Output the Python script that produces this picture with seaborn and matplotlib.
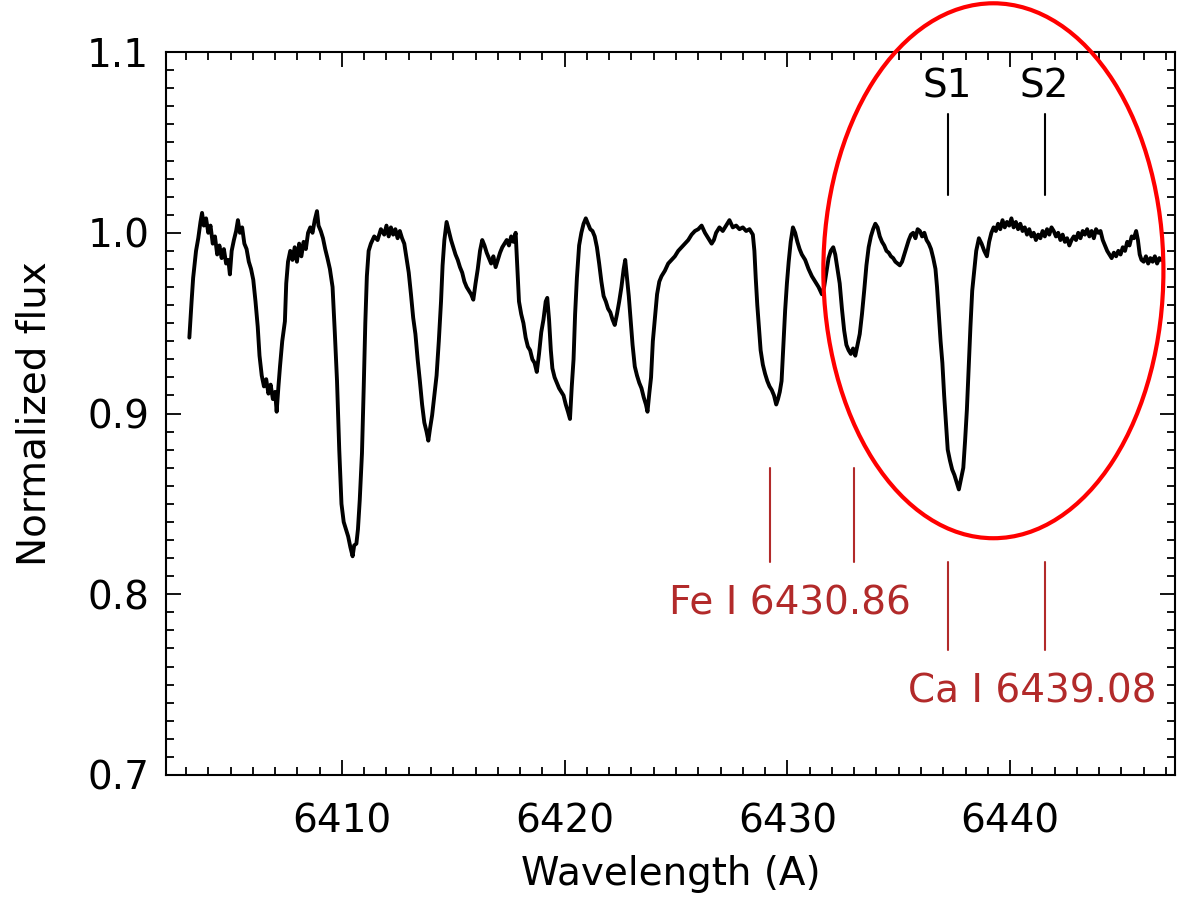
import numpy as np
import pandas as pd
import matplotlib
matplotlib.use("Agg")
import matplotlib.pyplot as plt
import seaborn as sns
from matplotlib.patches import Ellipse
from matplotlib.ticker import MultipleLocator

# spectrum (wavelength in A, normalized flux)
wavelength = [
    6403.15, 6403.25, 6403.32, 6403.45, 6403.55, 6403.65, 6403.72, 6403.80, 6403.90, 6404.00,
    6404.10, 6404.20, 6404.30, 6404.40, 6404.50, 6404.60, 6404.70, 6404.80, 6404.90, 6404.97,
    6405.05, 6405.15, 6405.25, 6405.33, 6405.42, 6405.52, 6405.62, 6405.72, 6405.82, 6405.92,
    6406.02, 6406.12, 6406.22, 6406.30, 6406.40, 6406.50, 6406.60, 6406.70, 6406.80, 6406.90,
    6407.00, 6407.07, 6407.15, 6407.22, 6407.32, 6407.44, 6407.50, 6407.58, 6407.68, 6407.78,
    6407.88, 6407.98, 6408.08, 6408.18, 6408.28, 6408.38, 6408.48, 6408.58, 6408.68, 6408.78,
    6408.88, 6408.95, 6409.05, 6409.15, 6409.25, 6409.35, 6409.46, 6409.58, 6409.68, 6409.78,
    6409.88, 6409.98, 6410.08, 6410.18, 6410.28, 6410.38, 6410.48, 6410.55, 6410.65, 6410.72,
    6410.80, 6410.90, 6410.98, 6411.05, 6411.12, 6411.20, 6411.30, 6411.45, 6411.60, 6411.75,
    6411.90, 6412.00, 6412.10, 6412.20, 6412.30, 6412.40, 6412.50, 6412.60, 6412.70, 6412.80,
    6412.90, 6413.00, 6413.10, 6413.20, 6413.30, 6413.40, 6413.50, 6413.60, 6413.70, 6413.80,
    6413.88, 6413.96, 6414.05, 6414.15, 6414.25, 6414.35, 6414.45, 6414.52, 6414.60, 6414.70,
    6414.80, 6414.90, 6415.00, 6415.10, 6415.20, 6415.30, 6415.40, 6415.50, 6415.60, 6415.70,
    6415.80, 6415.90, 6416.00, 6416.10, 6416.20, 6416.30, 6416.40, 6416.50, 6416.60, 6416.70,
    6416.80, 6416.90, 6417.00, 6417.10, 6417.20, 6417.30, 6417.40, 6417.50, 6417.60, 6417.70,
    6417.80, 6417.88, 6417.95, 6418.05, 6418.15, 6418.25, 6418.35, 6418.45, 6418.55, 6418.65,
    6418.75, 6418.85, 6418.95, 6419.05, 6419.15, 6419.22, 6419.30, 6419.38, 6419.45, 6419.55,
    6419.65, 6419.75, 6419.85, 6419.95, 6420.05, 6420.15, 6420.24, 6420.32, 6420.40, 6420.47,
    6420.55, 6420.65, 6420.75, 6420.85, 6420.95, 6421.05, 6421.15, 6421.25, 6421.35, 6421.45,
    6421.55, 6421.65, 6421.75, 6421.85, 6421.95, 6422.05, 6422.15, 6422.25, 6422.35, 6422.45,
    6422.55, 6422.65, 6422.72, 6422.80, 6422.88, 6422.96, 6423.05, 6423.15, 6423.25, 6423.35,
    6423.45, 6423.55, 6423.65, 6423.72, 6423.80, 6423.88, 6423.96, 6424.05, 6424.15, 6424.25,
    6424.35, 6424.50, 6424.65, 6424.80, 6424.95, 6425.10, 6425.25, 6425.40, 6425.55, 6425.70,
    6425.85, 6426.00, 6426.15, 6426.30, 6426.45, 6426.60, 6426.70, 6426.80, 6426.95, 6427.10,
    6427.25, 6427.40, 6427.55, 6427.70, 6427.85, 6428.00, 6428.15, 6428.30, 6428.45, 6428.52,
    6428.58, 6428.65, 6428.72, 6428.80, 6428.90, 6429.00, 6429.10, 6429.20, 6429.30, 6429.40,
    6429.50, 6429.58, 6429.66, 6429.74, 6429.82, 6429.90, 6429.98, 6430.06, 6430.15, 6430.25,
    6430.35, 6430.45, 6430.55, 6430.65, 6430.80, 6430.95, 6431.10, 6431.25, 6431.40, 6431.55,
    6431.65, 6431.75, 6431.85, 6431.95, 6432.06, 6432.15, 6432.25, 6432.35, 6432.45, 6432.55,
    6432.65, 6432.75, 6432.85, 6432.95, 6433.05, 6433.15, 6433.25, 6433.35, 6433.45, 6433.55,
    6433.65, 6433.75, 6433.85, 6433.95, 6434.05, 6434.15, 6434.25, 6434.35, 6434.45, 6434.55,
    6434.65, 6434.75, 6434.85, 6434.95, 6435.05, 6435.15, 6435.25, 6435.35, 6435.45, 6435.55,
    6435.65, 6435.75, 6435.85, 6435.95, 6436.05, 6436.15, 6436.25, 6436.35, 6436.45, 6436.55,
    6436.65, 6436.72, 6436.80, 6436.88, 6436.96, 6437.04, 6437.12, 6437.20, 6437.30, 6437.40,
    6437.50, 6437.60, 6437.70, 6437.80, 6437.90, 6437.98, 6438.06, 6438.14, 6438.22, 6438.30,
    6438.38, 6438.48, 6438.60, 6438.72, 6438.84, 6438.96, 6439.06, 6439.16, 6439.26, 6439.36,
    6439.46, 6439.56, 6439.66, 6439.76, 6439.86, 6439.96, 6440.06, 6440.16, 6440.26, 6440.36,
    6440.46, 6440.56, 6440.66, 6440.76, 6440.86, 6440.96, 6441.06, 6441.16, 6441.26, 6441.36,
    6441.46, 6441.56, 6441.66, 6441.76, 6441.86, 6441.96, 6442.06, 6442.16, 6442.26, 6442.36,
    6442.46, 6442.56, 6442.66, 6442.76, 6442.86, 6442.96, 6443.06, 6443.16, 6443.26, 6443.36,
    6443.46, 6443.56, 6443.66, 6443.76, 6443.86, 6443.96, 6444.06, 6444.16, 6444.26, 6444.36,
    6444.46, 6444.56, 6444.66, 6444.76, 6444.86, 6444.96, 6445.06, 6445.16, 6445.26, 6445.36,
    6445.46, 6445.56, 6445.66, 6445.74, 6445.82, 6445.90, 6446.00, 6446.10, 6446.20, 6446.30,
    6446.40, 6446.50, 6446.60, 6446.70, 6446.78,
]
flux = [
    0.942, 0.962, 0.975, 0.990, 0.997, 1.006, 1.011, 1.004, 1.008, 1.000,
    1.004, 0.994, 0.998, 0.988, 0.993, 0.986, 0.991, 0.983, 0.985, 0.977,
    0.990, 0.996, 1.001, 1.007, 1.000, 1.003, 0.994, 0.991, 0.984, 0.980,
    0.974, 0.962, 0.948, 0.932, 0.921, 0.915, 0.919, 0.911, 0.916, 0.908,
    0.912, 0.901, 0.915, 0.926, 0.940, 0.951, 0.972, 0.984, 0.990, 0.985,
    0.992, 0.984, 0.994, 0.987, 0.995, 0.991, 1.000, 1.003, 1.000, 1.007,
    1.012, 1.004, 1.001, 0.997, 0.991, 0.986, 0.980, 0.970, 0.945, 0.918,
    0.880, 0.850, 0.840, 0.836, 0.832, 0.826, 0.821, 0.827, 0.828, 0.836,
    0.852, 0.878, 0.915, 0.950, 0.976, 0.990, 0.994, 0.998, 0.996, 1.002,
    0.999, 1.004, 0.998, 1.003, 0.999, 1.002, 0.997, 1.001, 0.997, 0.994,
    0.986, 0.978, 0.966, 0.953, 0.944, 0.930, 0.918, 0.905, 0.895, 0.890,
    0.885, 0.892, 0.899, 0.910, 0.921, 0.940, 0.962, 0.982, 0.996, 1.006,
    1.001, 0.996, 0.992, 0.988, 0.985, 0.981, 0.978, 0.973, 0.970, 0.968,
    0.966, 0.963, 0.972, 0.980, 0.990, 0.996, 0.993, 0.989, 0.986, 0.983,
    0.987, 0.981, 0.985, 0.989, 0.992, 0.994, 0.996, 0.993, 0.998, 0.995,
    1.000, 0.980, 0.962, 0.955, 0.950, 0.942, 0.937, 0.935, 0.930, 0.928,
    0.923, 0.933, 0.945, 0.952, 0.962, 0.964, 0.952, 0.935, 0.925, 0.920,
    0.917, 0.914, 0.912, 0.910, 0.905, 0.901, 0.897, 0.915, 0.930, 0.955,
    0.975, 0.993, 1.000, 1.005, 1.008, 1.005, 1.002, 1.001, 0.998, 0.992,
    0.983, 0.973, 0.965, 0.962, 0.958, 0.956, 0.952, 0.949, 0.955, 0.962,
    0.970, 0.980, 0.985, 0.975, 0.965, 0.952, 0.938, 0.926, 0.921, 0.917,
    0.914, 0.909, 0.905, 0.901, 0.911, 0.920, 0.940, 0.952, 0.966, 0.973,
    0.976, 0.979, 0.983, 0.985, 0.987, 0.990, 0.992, 0.994, 0.996, 0.999,
    1.001, 1.002, 1.004, 1.000, 0.997, 0.994, 0.996, 1.000, 1.003, 1.001,
    1.004, 1.007, 1.003, 1.004, 1.002, 1.003, 1.001, 1.002, 0.999, 0.990,
    0.975, 0.960, 0.948, 0.935, 0.927, 0.922, 0.918, 0.915, 0.913, 0.910,
    0.905, 0.908, 0.912, 0.918, 0.938, 0.957, 0.972, 0.984, 0.995, 1.003,
    1.000, 0.995, 0.991, 0.988, 0.985, 0.980, 0.976, 0.973, 0.970, 0.966,
    0.970, 0.978, 0.986, 0.990, 0.992, 0.988, 0.980, 0.972, 0.958, 0.946,
    0.938, 0.935, 0.933, 0.936, 0.932, 0.938, 0.944, 0.955, 0.968, 0.982,
    0.992, 0.998, 1.002, 1.005, 1.003, 0.998, 0.995, 0.993, 0.990, 0.989,
    0.987, 0.986, 0.984, 0.983, 0.982, 0.984, 0.988, 0.992, 0.996, 0.999,
    1.000, 0.997, 1.002, 1.001, 0.998, 1.000, 0.996, 0.994, 0.991, 0.986,
    0.980, 0.970, 0.955, 0.940, 0.928, 0.910, 0.895, 0.880, 0.874, 0.869,
    0.866, 0.862, 0.858, 0.864, 0.870, 0.885, 0.902, 0.925, 0.948, 0.968,
    0.978, 0.990, 0.997, 0.994, 0.990, 0.987, 0.995, 1.000, 1.003, 1.001,
    1.005, 1.002, 1.007, 1.003, 1.006, 1.004, 1.008, 1.003, 1.006, 1.002,
    1.005, 1.001, 1.003, 0.999, 1.002, 0.998, 1.000, 0.996, 0.999, 0.997,
    1.001, 0.998, 1.002, 0.999, 1.003, 1.001, 0.998, 1.000, 0.996, 0.999,
    0.995, 0.997, 0.993, 0.996, 0.998, 0.996, 1.000, 0.997, 1.001, 0.999,
    1.002, 0.998, 1.001, 0.997, 1.002, 1.000, 1.001, 0.996, 0.993, 0.990,
    0.988, 0.986, 0.989, 0.987, 0.990, 0.988, 0.992, 0.990, 0.995, 0.993,
    0.998, 0.997, 1.001, 0.996, 0.988, 0.985, 0.984, 0.987, 0.983, 0.986,
    0.984, 0.987, 0.983, 0.986, 0.985,
]
assert len(wavelength) == len(flux)

# line marks
s_lines = [6437.2, 6441.55]
s_labels = ["S1", "S2"]
fe_lines = [6429.2, 6433.0]
ca_lines = [6437.2, 6441.55]
fe_label = "Fe I 6430.86"
ca_label = "Ca I 6439.08"

df = pd.DataFrame({"wavelength": wavelength, "flux": flux})

sns.set_style("ticks")
plt.rcParams["font.family"] = ["DejaVu Sans"]
plt.rcParams["text.color"] = "black"
plt.rcParams["axes.labelcolor"] = "black"

FS = 28

fig = plt.figure(figsize=(11.94, 8.98), dpi=100)
ax = fig.add_axes([0.139, 0.137, 0.845, 0.805])

sns.lineplot(data=df, x="wavelength", y="flux", color="black", lw=2.8,
             estimator=None, sort=False, ax=ax)

ax.set_xlim(6402.1, 6447.4)
ax.set_ylim(0.7, 1.1)
ax.xaxis.set_major_locator(MultipleLocator(10))
ax.xaxis.set_minor_locator(MultipleLocator(1))
ax.yaxis.set_major_locator(MultipleLocator(0.1))
ax.yaxis.set_minor_locator(MultipleLocator(0.01))
ax.yaxis.set_major_formatter(matplotlib.ticker.FormatStrFormatter("%.1f"))

ax.tick_params(which="both", direction="in", top=True, right=True,
               width=1.3, colors="black", labelsize=FS)
ax.tick_params(which="major", length=11)
ax.tick_params(which="minor", length=6)
ax.tick_params(axis="x", pad=20)
ax.tick_params(axis="y", pad=12)
for sp in ax.spines.values():
    sp.set_linewidth(1.5)
    sp.set_color("black")

ax.set_xlabel("Wavelength (A)", fontsize=FS, labelpad=10)
ax.set_ylabel("Normalized flux", fontsize=FS, labelpad=24)

# S1 / S2 markers
for x, lab in zip(s_lines, s_labels):
    ax.plot([x, x], [1.021, 1.066], color="black", lw=1.5)
    ax.text(x, 1.081, lab, ha="center", va="center", fontsize=FS)

red = "#b22a2a"
for x in fe_lines:
    ax.plot([x, x], [0.818, 0.870], color=red, lw=1.5)
ax.text(6430.1, 0.795, fe_label, ha="center", va="center", fontsize=FS, color=red)
for x in ca_lines:
    ax.plot([x, x], [0.769, 0.818], color=red, lw=1.5)
ax.text(6441.0, 0.746, ca_label, ha="center", va="center", fontsize=FS, color=red)

ell = Ellipse((6439.25, 0.979), 15.27, 0.296, fill=False, edgecolor="red",
              lw=3, clip_on=False, zorder=5)
ax.add_patch(ell)

fig.savefig("out.png", dpi=100)
